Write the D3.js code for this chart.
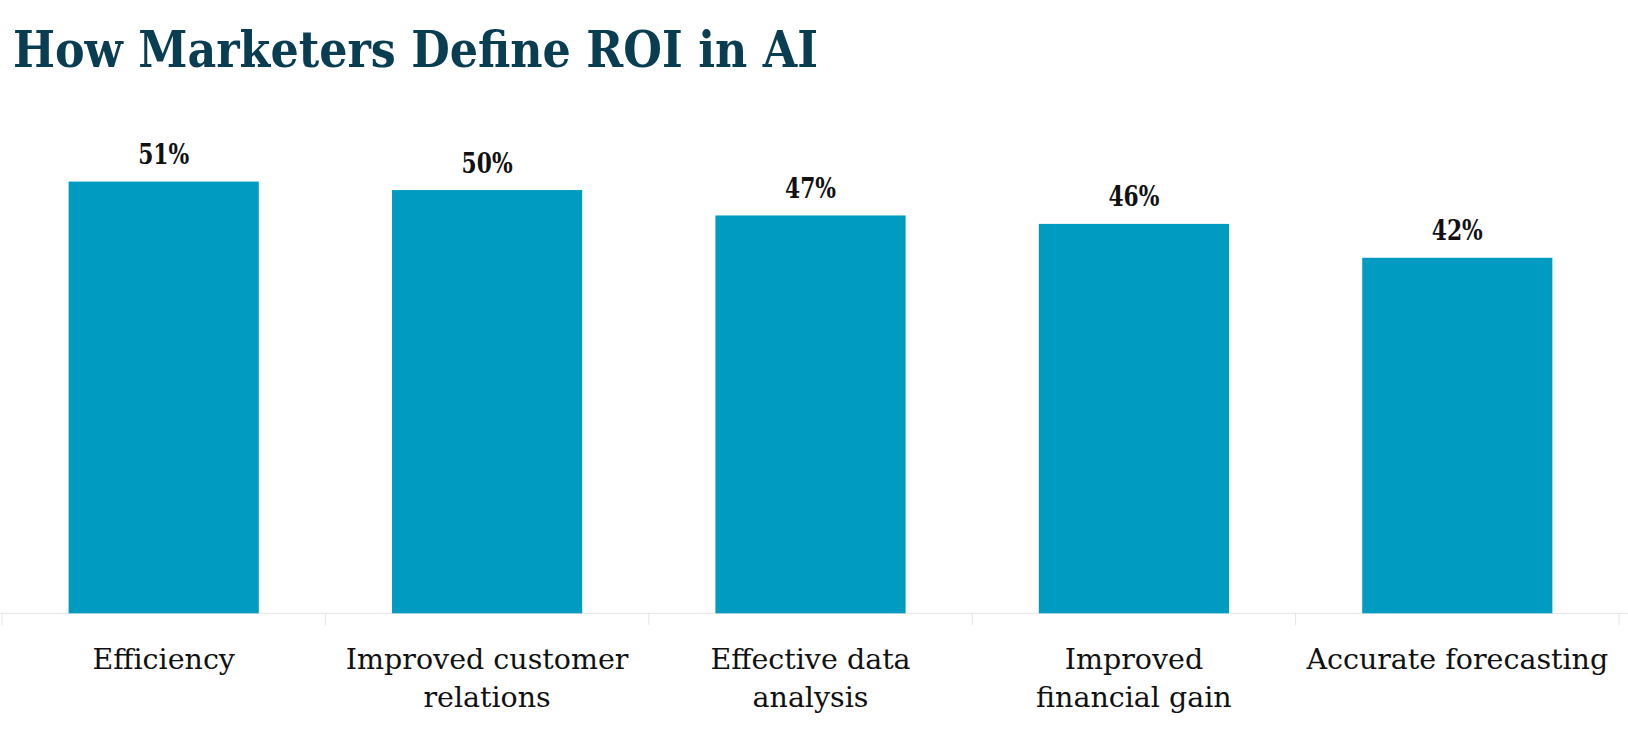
<!DOCTYPE html>
<html>
<head>
<meta charset="utf-8">
<script src="https://cdn.jsdelivr.net/npm/d3@7"></script>
<style>
  body { margin: 0; background: #fff; }
  svg { display: block; }
  .slab { font-family: "DejaVu Serif Condensed", "DejaVu Serif", serif; font-stretch: condensed; }
  .cat { font-family: "DejaVu Serif", serif; }
</style>
</head>
<body>
<div id="chartMain"></div>
<script>
// data
const categories = ["Efficiency", "Improved customer\nrelations", "Effective data\nanalysis", "Improved\nfinancial gain", "Accurate forecasting"];
const values = [51, 50, 47, 46, 42];
const title = "How Marketers Define ROI in AI";

const W = 1628, H = 745;

const svg = d3.select("#chartMain")
    .append("svg")
    .attr("width", W)
    .attr("height", H);

// scales
const x = d3.scaleBand()
    .domain(categories)
    .range([2, 1619])
    .paddingInner(0.412)
    .paddingOuter(0.206);

const y = d3.scaleLinear()
    .domain([0, 60])
    .range([613.3, 105.4]);

// title
svg.append("text")
    .attr("class", "slab")
    .attr("x", 13)
    .attr("y", 67)
    .attr("fill", "#083d52")
    .attr("font-size", 50)
    .attr("font-weight", "bold")
    .attr("textLength", 805)
    .attr("lengthAdjust", "spacingAndGlyphs")
    .text(title);

// baseline + ticks between categories
svg.append("line")
    .attr("x1", 0).attr("x2", W)
    .attr("y1", y(0)).attr("y2", y(0))
    .attr("stroke", "#e4e4e4")
    .attr("stroke-width", 1);

const half = x.step() * x.paddingInner() / 2;
const edges = categories.map(c => x(c) - half).concat([x(categories[categories.length - 1]) + x.bandwidth() + half]);
svg.selectAll(".tick")
    .data(edges)
    .join("line")
    .attr("class", "tick")
    .attr("x1", d => d).attr("x2", d => d)
    .attr("y1", y(0)).attr("y2", y(0) + 12)
    .attr("stroke", "#e4e4e4");

// bars
svg.selectAll(".bar")
    .data(values)
    .join("rect")
    .attr("class", "bar")
    .attr("x", (d, i) => x(categories[i]))
    .attr("y", d => y(d))
    .attr("width", x.bandwidth())
    .attr("height", d => y(0) - y(d))
    .attr("fill", "#009bc0");

// value labels
svg.selectAll(".val")
    .data(values)
    .join("text")
    .attr("class", "val slab")
    .attr("x", (d, i) => x(categories[i]) + x.bandwidth() / 2)
    .attr("y", d => y(d) - 17.5)
    .attr("text-anchor", "middle")
    .attr("font-size", 27)
    .attr("font-weight", "bold")
    .attr("fill", "#111")
    .attr("textLength", 51)
    .attr("lengthAdjust", "spacingAndGlyphs")
    .text(d => d + "%");

// category labels
const lab = svg.selectAll(".cat")
    .data(categories)
    .join("text")
    .attr("class", "cat")
    .attr("text-anchor", "middle")
    .attr("font-size", 28.5)
    .attr("fill", "#111");

lab.selectAll("tspan")
    .data(d => d.split("\n").map(s => ({ s, c: d })))
    .join("tspan")
    .attr("x", d => x(d.c) + x.bandwidth() / 2)
    .attr("y", (d, i) => 669 + i * 37.5)
    .text(d => d.s);
</script>
</body>
</html>
